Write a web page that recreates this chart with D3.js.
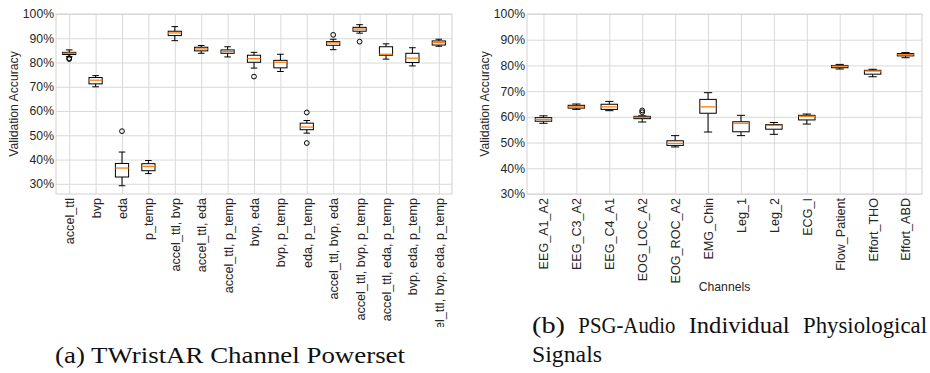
<!DOCTYPE html>
<html>
<head>
<meta charset="utf-8">
<script src="https://cdn.jsdelivr.net/npm/d3@7"></script>
<style>
  body { margin: 0; background: #fff; }
  svg text { font-family: "Liberation Sans", Arial, sans-serif; }
  svg text.cap { font-family: "Liberation Serif", serif; }
</style>
</head>
<body>
<div id="chart"></div>
<script>
// (a) TWristAR channel powerset
const taCats = ["accel_ttl", "bvp", "eda", "p_temp", "accel_ttl, bvp", "accel_ttl, eda",
  "accel_ttl, p_temp", "bvp, eda", "bvp, p_temp", "eda, p_temp", "accel_ttl, bvp, eda",
  "accel_ttl, bvp, p_temp", "accel_ttl, eda, p_temp", "bvp, eda, p_temp", "accel_ttl, bvp, eda, p_temp"]
const taLow  = [82.4, 70.0, 29.2, 34.2, 89.0, 83.8, 82.3, 77.7, 76.3, 50.9, 85.3, 92.1, 81.4, 78.6, 86.7]
const taQ1   = [83.3, 71.2, 32.8, 35.4, 91.1, 84.8, 83.8, 80.1, 77.8, 52.3, 87.1, 92.9, 83.0, 80.0, 87.2]
const taMed  = [83.8, 72.7, 36.5, 37.2, 92.2, 85.6, 84.5, 81.6, 80.1, 53.4, 88.1, 93.8, 83.4, 81.8, 88.2]
const taQ3   = [84.2, 73.8, 38.4, 38.3, 92.9, 86.3, 85.2, 83.0, 80.9, 55.0, 88.6, 94.5, 86.5, 83.8, 88.9]
const taHigh = [85.2, 74.6, 43.1, 39.6, 94.8, 87.0, 86.5, 84.2, 83.4, 56.1, 89.6, 95.6, 87.7, 86.1, 89.6]
const taOut  = [[81.4, 81.8], [], [51.7], [], [], [], [], [74.2], [], [59.4, 46.8], [91.4], [88.6], [], [], []]

// (b) PSG-Audio individual signals
const psgCats = ["EEG_A1_A2", "EEG_C3_A2", "EEG_C4_A1", "EOG_LOC_A2", "EOG_ROC_A2", "EMG_Chin",
  "Leg_1", "Leg_2", "ECG_I", "Flow_Patient", "Effort_THO", "Effort_ABD"]
const psgLow  = [57.5, 62.9, 62.4, 58.0, 48.3, 54.1, 52.7, 53.2, 57.2, 78.6, 75.6, 83.0]
const psgQ1   = [58.3, 63.4, 62.9, 59.3, 48.9, 61.4, 54.2, 55.2, 58.8, 79.1, 76.6, 83.7]
const psgMed  = [59.0, 63.9, 63.9, 59.8, 49.7, 63.9, 57.5, 56.7, 60.2, 79.7, 77.8, 84.2]
const psgQ3   = [59.7, 64.5, 64.9, 60.2, 50.7, 66.8, 58.1, 57.0, 60.6, 80.0, 78.1, 84.6]
const psgHigh = [60.4, 65.0, 66.0, 60.4, 52.7, 69.4, 60.6, 57.8, 61.1, 80.4, 78.5, 85.0]
const psgOut  = [[], [], [], [61.8, 62.5], [], [], [], [], [], [], [], []]

const yTicks = [30, 40, 50, 60, 70, 80, 90, 100]

const svg = d3.select("#chart").append("svg")
  .attr("width", 930)
  .attr("height", 373)

function boxPanel(opts) {
  const { left, right, top, bottom, yMin, cats, low, q1, med, q3, high, out, clipBottom, xLabel } = opts
  const g = svg.append("g")

  const x = d3.scalePoint().domain(cats).range([left, right]).padding(0.5)
  const y = d3.scaleLinear().domain([yMin, 100]).range([bottom, top])
  const step = x.step()
  const bw = step * 0.5

  // grid + y labels
  const yAxis = g.append("g")
    .attr("transform", `translate(${left},0)`)
    .call(d3.axisLeft(y).tickValues(yTicks).tickSize(-(right - left)).tickPadding(2).tickFormat(d => d + "%"))
  yAxis.select(".domain").remove()
  yAxis.selectAll("line").attr("stroke", "#d9d9d9").attr("stroke-width", 1)
  yAxis.selectAll("text").attr("font-size", 12.2).attr("fill", "#262626")

  // wrapper so the clip works in page coordinates
  const xWrap = g.append("g")
  if (clipBottom) {
    const clipId = "clip" + Math.round(left)
    svg.append("clipPath").attr("id", clipId)
      .append("rect").attr("x", left - 20).attr("y", 0).attr("width", right - left + 40).attr("height", clipBottom)
    xWrap.attr("clip-path", `url(#${clipId})`)
  }

  const xAxis = xWrap.append("g")
    .attr("transform", `translate(0,${bottom})`)
    .call(d3.axisBottom(x).tickSize(-(bottom - top)).tickPadding(0))
  xAxis.select(".domain").remove()
  xAxis.selectAll("line").attr("stroke", "#d9d9d9").attr("stroke-width", 1)
  xAxis.selectAll("text")
    .attr("font-size", 12.6)
    .attr("fill", "#262626")
    .attr("text-anchor", "end")
    .attr("transform", "rotate(-90)")
    .attr("x", -4)
    .attr("y", 0)
    .attr("dy", "0.35em")

  g.append("rect")
    .attr("x", left).attr("y", top)
    .attr("width", right - left).attr("height", bottom - top)
    .attr("fill", "none").attr("stroke", "#d9d9d9").attr("stroke-width", 1.2)

  const boxes = g.selectAll(".box").data(cats).join("g").attr("class", "box")
  boxes.each(function (c, i) {
    const b = d3.select(this)
    const cx = x(c)
    // whiskers
    b.append("line").attr("x1", cx).attr("x2", cx).attr("y1", y(q3[i])).attr("y2", y(high[i]))
      .attr("stroke", "#000").attr("stroke-width", 1)
    b.append("line").attr("x1", cx).attr("x2", cx).attr("y1", y(q1[i])).attr("y2", y(low[i]))
      .attr("stroke", "#000").attr("stroke-width", 1)
    // caps
    ;[low[i], high[i]].forEach(v => {
      b.append("line").attr("x1", cx - bw / 4).attr("x2", cx + bw / 4).attr("y1", y(v)).attr("y2", y(v))
        .attr("stroke", "#000").attr("stroke-width", 1)
    })
    b.append("rect")
      .attr("x", cx - bw / 2).attr("y", y(q3[i]))
      .attr("width", bw).attr("height", y(q1[i]) - y(q3[i]))
      .attr("fill", "#fff").attr("stroke", "#000").attr("stroke-width", 1)
    b.append("line").attr("x1", cx - bw / 2).attr("x2", cx + bw / 2).attr("y1", y(med[i])).attr("y2", y(med[i]))
      .attr("stroke", "#ff7f0e").attr("stroke-width", 1.3)
    b.selectAll("circle").data(out[i]).join("circle")
      .attr("cx", cx).attr("cy", d => y(d)).attr("r", 2.4)
      .attr("fill", "none").attr("stroke", "#000").attr("stroke-width", 1)
  })

  g.append("text")
    .attr("transform", `translate(${left - 38},${(top + bottom) / 2}) rotate(-90)`)
    .attr("text-anchor", "middle")
    .attr("font-size", 12.2)
    .attr("fill", "#262626")
    .text("Validation Accuracy")

  if (xLabel) {
    g.append("text")
      .attr("x", (left + right) / 2).attr("y", 291)
      .attr("text-anchor", "middle")
      .attr("font-size", 12.2)
      .attr("fill", "#262626")
      .text(xLabel)
  }
}

boxPanel({ left: 56, right: 452, top: 14, bottom: 194, yMin: 25.8,
  cats: taCats, low: taLow, q1: taQ1, med: taMed, q3: taQ3, high: taHigh, out: taOut, clipBottom: 327 })

boxPanel({ left: 527, right: 922, top: 14, bottom: 194, yMin: 30,
  cats: psgCats, low: psgLow, q1: psgQ1, med: psgMed, q3: psgQ3, high: psgHigh, out: psgOut, xLabel: "Channels" })

// captions
svg.append("text").attr("class", "cap")
  .attr("x", 55).attr("y", 363)
  .attr("font-size", 23)
  .attr("fill", "#111")
  .attr("textLength", 350).attr("lengthAdjust", "spacingAndGlyphs")
  .text("(a) TWristAR Channel Powerset")

// justified first line of caption (b)
const bWords = ["(b)", "PSG-Audio", "Individual", "Physiological"]
const words = svg.selectAll(".bw").data(bWords).join("text").attr("class", "bw cap")
  .attr("y", 333)
  .attr("font-size", 23)
  .attr("fill", "#111")
  .text(d => d)
const widths = []
words.each(function () { widths.push(this.getComputedTextLength()) })
const target = [33, 97, 101, 124]
const lineW = 927 - 532
const gap = (lineW - d3.sum(target)) / (bWords.length - 1)
let cursor = 532
words.each(function (d, i) {
  d3.select(this).attr("x", cursor)
    .attr("textLength", target[i]).attr("lengthAdjust", "spacingAndGlyphs")
  cursor += target[i] + gap
})
svg.append("text").attr("class", "cap")
  .attr("x", 532).attr("y", 362)
  .attr("font-size", 23)
  .attr("fill", "#111")
  .attr("textLength", 70).attr("lengthAdjust", "spacingAndGlyphs")
  .text("Signals")
</script>
</body>
</html>
